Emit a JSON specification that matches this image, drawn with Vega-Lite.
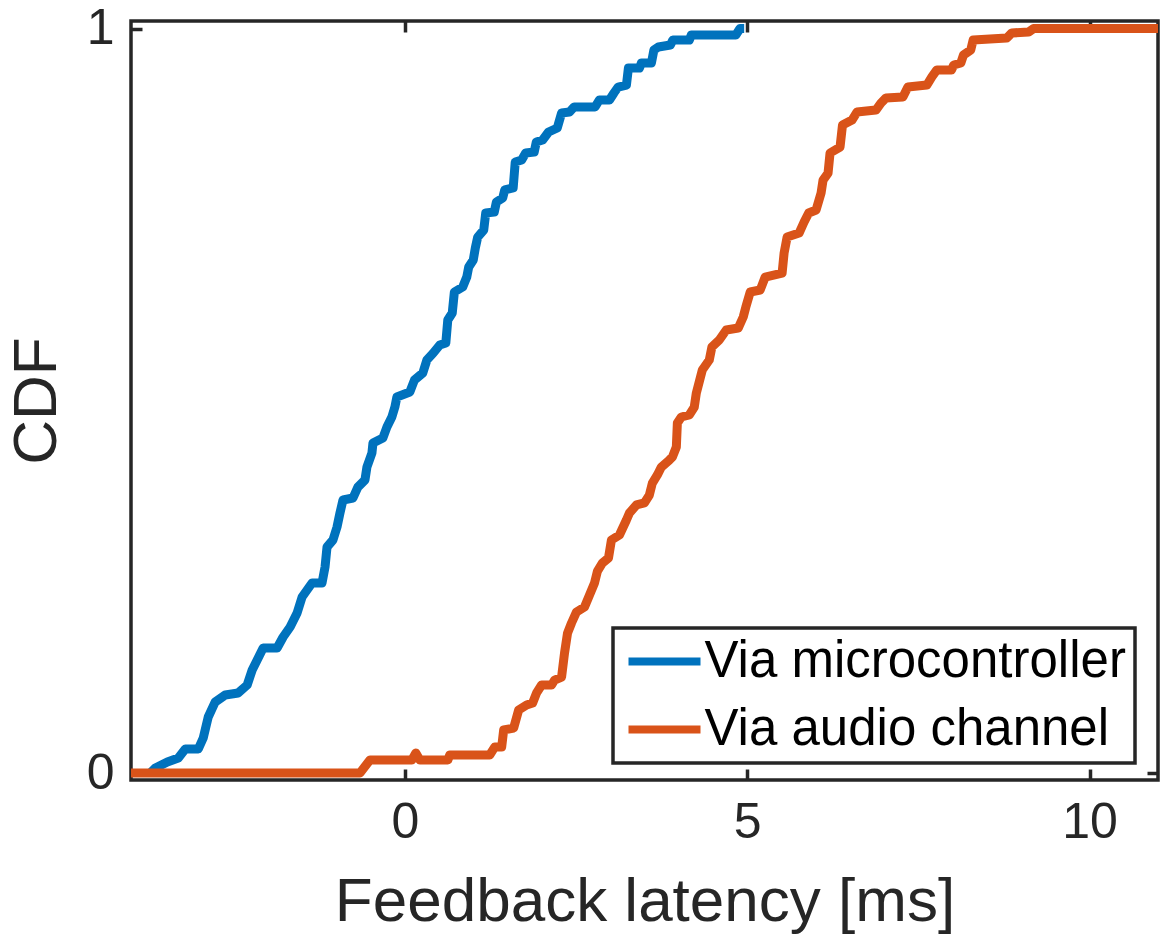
{
  "$schema": "https://vega.github.io/schema/vega-lite/v6.json",
  "width": 1027,
  "height": 759,
  "autosize": {"type": "none"},
  "padding": {"left": 131, "top": 21, "right": 2, "bottom": 166},
  "background": "white",
  "config": {
    "font": "Liberation Sans",
    "view": {"stroke": "#262626", "strokeWidth": 3.5},
    "legend": {"strokeWidth": 3.5},
    "axis": {
      "domain": false,
      "grid": false,
      "tickSize": -11,
      "tickWidth": 3.5,
      "tickColor": "#262626",
      "labelFont": "Liberation Sans",
      "labelFontSize": 50,
      "labelColor": "#262626",
      "titleFont": "Liberation Sans",
      "titleFontSize": 62,
      "titleFontWeight": "normal",
      "titleColor": "#262626",
      "format": "d"
    }
  },
  "data": {
    "values": [
      {"series": "Via microcontroller", "latency": -3.717, "cdf": 0},
      {"series": "Via microcontroller", "latency": -3.644, "cdf": 0.0067},
      {"series": "Via microcontroller", "latency": -3.469, "cdf": 0.0148},
      {"series": "Via microcontroller", "latency": -3.309, "cdf": 0.0201},
      {"series": "Via microcontroller", "latency": -3.207, "cdf": 0.0322},
      {"series": "Via microcontroller", "latency": -3.017, "cdf": 0.0322},
      {"series": "Via microcontroller", "latency": -2.945, "cdf": 0.047},
      {"series": "Via microcontroller", "latency": -2.872, "cdf": 0.0752},
      {"series": "Via microcontroller", "latency": -2.77, "cdf": 0.0954},
      {"series": "Via microcontroller", "latency": -2.624, "cdf": 0.1048},
      {"series": "Via microcontroller", "latency": -2.434, "cdf": 0.1075},
      {"series": "Via microcontroller", "latency": -2.303, "cdf": 0.1182},
      {"series": "Via microcontroller", "latency": -2.23, "cdf": 0.1383},
      {"series": "Via microcontroller", "latency": -2.157, "cdf": 0.1518},
      {"series": "Via microcontroller", "latency": -2.07, "cdf": 0.1679},
      {"series": "Via microcontroller", "latency": -1.866, "cdf": 0.1679},
      {"series": "Via microcontroller", "latency": -1.778, "cdf": 0.1827},
      {"series": "Via microcontroller", "latency": -1.676, "cdf": 0.1961},
      {"series": "Via microcontroller", "latency": -1.574, "cdf": 0.2149},
      {"series": "Via microcontroller", "latency": -1.501, "cdf": 0.2364},
      {"series": "Via microcontroller", "latency": -1.356, "cdf": 0.2552},
      {"series": "Via microcontroller", "latency": -1.21, "cdf": 0.2552},
      {"series": "Via microcontroller", "latency": -1.166, "cdf": 0.2767},
      {"series": "Via microcontroller", "latency": -1.137, "cdf": 0.3036},
      {"series": "Via microcontroller", "latency": -1.05, "cdf": 0.313},
      {"series": "Via microcontroller", "latency": -0.991, "cdf": 0.3304},
      {"series": "Via microcontroller", "latency": -0.948, "cdf": 0.3492},
      {"series": "Via microcontroller", "latency": -0.904, "cdf": 0.3667},
      {"series": "Via microcontroller", "latency": -0.758, "cdf": 0.3694},
      {"series": "Via microcontroller", "latency": -0.685, "cdf": 0.3842},
      {"series": "Via microcontroller", "latency": -0.583, "cdf": 0.3936},
      {"series": "Via microcontroller", "latency": -0.554, "cdf": 0.411},
      {"series": "Via microcontroller", "latency": -0.481, "cdf": 0.4298},
      {"series": "Via microcontroller", "latency": -0.466, "cdf": 0.4433},
      {"series": "Via microcontroller", "latency": -0.321, "cdf": 0.45},
      {"series": "Via microcontroller", "latency": -0.262, "cdf": 0.4647},
      {"series": "Via microcontroller", "latency": -0.19, "cdf": 0.4782},
      {"series": "Via microcontroller", "latency": -0.146, "cdf": 0.4916},
      {"series": "Via microcontroller", "latency": -0.117, "cdf": 0.505},
      {"series": "Via microcontroller", "latency": 0.073, "cdf": 0.5118},
      {"series": "Via microcontroller", "latency": 0.14, "cdf": 0.5279},
      {"series": "Via microcontroller", "latency": 0.262, "cdf": 0.5373},
      {"series": "Via microcontroller", "latency": 0.321, "cdf": 0.5547},
      {"series": "Via microcontroller", "latency": 0.415, "cdf": 0.5641},
      {"series": "Via microcontroller", "latency": 0.51, "cdf": 0.5749},
      {"series": "Via microcontroller", "latency": 0.598, "cdf": 0.5776},
      {"series": "Via microcontroller", "latency": 0.627, "cdf": 0.6085},
      {"series": "Via microcontroller", "latency": 0.692, "cdf": 0.6179},
      {"series": "Via microcontroller", "latency": 0.723, "cdf": 0.6461},
      {"series": "Via microcontroller", "latency": 0.845, "cdf": 0.6528},
      {"series": "Via microcontroller", "latency": 0.904, "cdf": 0.6662},
      {"series": "Via microcontroller", "latency": 0.933, "cdf": 0.6797},
      {"series": "Via microcontroller", "latency": 0.999, "cdf": 0.6891},
      {"series": "Via microcontroller", "latency": 1.029, "cdf": 0.7052},
      {"series": "Via microcontroller", "latency": 1.064, "cdf": 0.7199},
      {"series": "Via microcontroller", "latency": 1.152, "cdf": 0.7294},
      {"series": "Via microcontroller", "latency": 1.181, "cdf": 0.7522},
      {"series": "Via microcontroller", "latency": 1.306, "cdf": 0.7535},
      {"series": "Via microcontroller", "latency": 1.337, "cdf": 0.767},
      {"series": "Via microcontroller", "latency": 1.429, "cdf": 0.7723},
      {"series": "Via microcontroller", "latency": 1.458, "cdf": 0.7831},
      {"series": "Via microcontroller", "latency": 1.582, "cdf": 0.7858},
      {"series": "Via microcontroller", "latency": 1.612, "cdf": 0.8207},
      {"series": "Via microcontroller", "latency": 1.706, "cdf": 0.8234},
      {"series": "Via microcontroller", "latency": 1.764, "cdf": 0.8328},
      {"series": "Via microcontroller", "latency": 1.889, "cdf": 0.8341},
      {"series": "Via microcontroller", "latency": 1.92, "cdf": 0.8476},
      {"series": "Via microcontroller", "latency": 2.012, "cdf": 0.8502},
      {"series": "Via microcontroller", "latency": 2.099, "cdf": 0.861},
      {"series": "Via microcontroller", "latency": 2.226, "cdf": 0.8664},
      {"series": "Via microcontroller", "latency": 2.289, "cdf": 0.8865},
      {"series": "Via microcontroller", "latency": 2.405, "cdf": 0.8878},
      {"series": "Via microcontroller", "latency": 2.471, "cdf": 0.8946},
      {"series": "Via microcontroller", "latency": 2.778, "cdf": 0.8946},
      {"series": "Via microcontroller", "latency": 2.84, "cdf": 0.904},
      {"series": "Via microcontroller", "latency": 2.988, "cdf": 0.904},
      {"series": "Via microcontroller", "latency": 3.054, "cdf": 0.9134},
      {"series": "Via microcontroller", "latency": 3.115, "cdf": 0.9214},
      {"series": "Via microcontroller", "latency": 3.236, "cdf": 0.9241},
      {"series": "Via microcontroller", "latency": 3.265, "cdf": 0.9469},
      {"series": "Via microcontroller", "latency": 3.426, "cdf": 0.9469},
      {"series": "Via microcontroller", "latency": 3.455, "cdf": 0.9537},
      {"series": "Via microcontroller", "latency": 3.601, "cdf": 0.9537},
      {"series": "Via microcontroller", "latency": 3.637, "cdf": 0.9711},
      {"series": "Via microcontroller", "latency": 3.703, "cdf": 0.9751},
      {"series": "Via microcontroller", "latency": 3.878, "cdf": 0.9778},
      {"series": "Via microcontroller", "latency": 3.914, "cdf": 0.9846},
      {"series": "Via microcontroller", "latency": 4.155, "cdf": 0.9846},
      {"series": "Via microcontroller", "latency": 4.184, "cdf": 0.9913},
      {"series": "Via microcontroller", "latency": 4.834, "cdf": 0.9913},
      {"series": "Via microcontroller", "latency": 4.895, "cdf": 1},
      {"series": "Via microcontroller", "latency": 4.956, "cdf": 1},
      {"series": "Via audio channel", "latency": -4.0, "cdf": 0},
      {"series": "Via audio channel", "latency": -0.656, "cdf": 0},
      {"series": "Via audio channel", "latency": -0.51, "cdf": 0.0175},
      {"series": "Via audio channel", "latency": 0.102, "cdf": 0.0175},
      {"series": "Via audio channel", "latency": 0.16, "cdf": 0.0269},
      {"series": "Via audio channel", "latency": 0.219, "cdf": 0.0175},
      {"series": "Via audio channel", "latency": 0.627, "cdf": 0.0175},
      {"series": "Via audio channel", "latency": 0.656, "cdf": 0.0242},
      {"series": "Via audio channel", "latency": 1.239, "cdf": 0.0242},
      {"series": "Via audio channel", "latency": 1.312, "cdf": 0.0349},
      {"series": "Via audio channel", "latency": 1.414, "cdf": 0.0349},
      {"series": "Via audio channel", "latency": 1.443, "cdf": 0.0578},
      {"series": "Via audio channel", "latency": 1.589, "cdf": 0.0604},
      {"series": "Via audio channel", "latency": 1.662, "cdf": 0.0846},
      {"series": "Via audio channel", "latency": 1.778, "cdf": 0.0913},
      {"series": "Via audio channel", "latency": 1.866, "cdf": 0.094},
      {"series": "Via audio channel", "latency": 1.924, "cdf": 0.1075},
      {"series": "Via audio channel", "latency": 1.997, "cdf": 0.1182},
      {"series": "Via audio channel", "latency": 2.143, "cdf": 0.1182},
      {"series": "Via audio channel", "latency": 2.187, "cdf": 0.1249},
      {"series": "Via audio channel", "latency": 2.289, "cdf": 0.1289},
      {"series": "Via audio channel", "latency": 2.332, "cdf": 0.1612},
      {"series": "Via audio channel", "latency": 2.376, "cdf": 0.188},
      {"series": "Via audio channel", "latency": 2.434, "cdf": 0.2015},
      {"series": "Via audio channel", "latency": 2.507, "cdf": 0.2163},
      {"series": "Via audio channel", "latency": 2.624, "cdf": 0.223},
      {"series": "Via audio channel", "latency": 2.697, "cdf": 0.2391},
      {"series": "Via audio channel", "latency": 2.77, "cdf": 0.2552},
      {"series": "Via audio channel", "latency": 2.813, "cdf": 0.2713},
      {"series": "Via audio channel", "latency": 2.886, "cdf": 0.2821},
      {"series": "Via audio channel", "latency": 2.974, "cdf": 0.2888},
      {"series": "Via audio channel", "latency": 3.017, "cdf": 0.313},
      {"series": "Via audio channel", "latency": 3.134, "cdf": 0.3197},
      {"series": "Via audio channel", "latency": 3.236, "cdf": 0.3398},
      {"series": "Via audio channel", "latency": 3.28, "cdf": 0.3492},
      {"series": "Via audio channel", "latency": 3.382, "cdf": 0.36},
      {"series": "Via audio channel", "latency": 3.499, "cdf": 0.3627},
      {"series": "Via audio channel", "latency": 3.571, "cdf": 0.3734},
      {"series": "Via audio channel", "latency": 3.615, "cdf": 0.3895},
      {"series": "Via audio channel", "latency": 3.688, "cdf": 0.4003},
      {"series": "Via audio channel", "latency": 3.746, "cdf": 0.411},
      {"series": "Via audio channel", "latency": 3.863, "cdf": 0.4204},
      {"series": "Via audio channel", "latency": 3.907, "cdf": 0.4244},
      {"series": "Via audio channel", "latency": 3.965, "cdf": 0.4379},
      {"series": "Via audio channel", "latency": 3.98, "cdf": 0.4701},
      {"series": "Via audio channel", "latency": 4.038, "cdf": 0.4782},
      {"series": "Via audio channel", "latency": 4.155, "cdf": 0.4809},
      {"series": "Via audio channel", "latency": 4.227, "cdf": 0.4916},
      {"series": "Via audio channel", "latency": 4.257, "cdf": 0.5104},
      {"series": "Via audio channel", "latency": 4.344, "cdf": 0.5413},
      {"series": "Via audio channel", "latency": 4.446, "cdf": 0.5547},
      {"series": "Via audio channel", "latency": 4.484, "cdf": 0.5722},
      {"series": "Via audio channel", "latency": 4.592, "cdf": 0.5816},
      {"series": "Via audio channel", "latency": 4.694, "cdf": 0.595},
      {"series": "Via audio channel", "latency": 4.869, "cdf": 0.5977},
      {"series": "Via audio channel", "latency": 4.942, "cdf": 0.6125},
      {"series": "Via audio channel", "latency": 4.98, "cdf": 0.6259},
      {"series": "Via audio channel", "latency": 5.044, "cdf": 0.6461},
      {"series": "Via audio channel", "latency": 5.19, "cdf": 0.6488},
      {"series": "Via audio channel", "latency": 5.262, "cdf": 0.6662},
      {"series": "Via audio channel", "latency": 5.51, "cdf": 0.6716},
      {"series": "Via audio channel", "latency": 5.539, "cdf": 0.6985},
      {"series": "Via audio channel", "latency": 5.583, "cdf": 0.7199},
      {"series": "Via audio channel", "latency": 5.758, "cdf": 0.7253},
      {"series": "Via audio channel", "latency": 5.831, "cdf": 0.7401},
      {"series": "Via audio channel", "latency": 5.898, "cdf": 0.7522},
      {"series": "Via audio channel", "latency": 6.006, "cdf": 0.7562},
      {"series": "Via audio channel", "latency": 6.079, "cdf": 0.779},
      {"series": "Via audio channel", "latency": 6.108, "cdf": 0.7965},
      {"series": "Via audio channel", "latency": 6.181, "cdf": 0.8059},
      {"series": "Via audio channel", "latency": 6.21, "cdf": 0.8328},
      {"series": "Via audio channel", "latency": 6.356, "cdf": 0.8408},
      {"series": "Via audio channel", "latency": 6.392, "cdf": 0.8704},
      {"series": "Via audio channel", "latency": 6.531, "cdf": 0.8771},
      {"series": "Via audio channel", "latency": 6.603, "cdf": 0.8878},
      {"series": "Via audio channel", "latency": 6.88, "cdf": 0.8905},
      {"series": "Via audio channel", "latency": 6.953, "cdf": 0.8999},
      {"series": "Via audio channel", "latency": 7.026, "cdf": 0.9067},
      {"series": "Via audio channel", "latency": 7.274, "cdf": 0.908},
      {"series": "Via audio channel", "latency": 7.347, "cdf": 0.9214},
      {"series": "Via audio channel", "latency": 7.624, "cdf": 0.9241},
      {"series": "Via audio channel", "latency": 7.697, "cdf": 0.9349},
      {"series": "Via audio channel", "latency": 7.77, "cdf": 0.9443},
      {"series": "Via audio channel", "latency": 7.983, "cdf": 0.9443},
      {"series": "Via audio channel", "latency": 8.017, "cdf": 0.951},
      {"series": "Via audio channel", "latency": 8.12, "cdf": 0.9537},
      {"series": "Via audio channel", "latency": 8.159, "cdf": 0.9644},
      {"series": "Via audio channel", "latency": 8.265, "cdf": 0.9711},
      {"series": "Via audio channel", "latency": 8.3, "cdf": 0.9846},
      {"series": "Via audio channel", "latency": 8.79, "cdf": 0.9872},
      {"series": "Via audio channel", "latency": 8.863, "cdf": 0.994},
      {"series": "Via audio channel", "latency": 9.111, "cdf": 0.9953},
      {"series": "Via audio channel", "latency": 9.184, "cdf": 1},
      {"series": "Via audio channel", "latency": 11.0, "cdf": 1}
    ]
  },
  "layer": [
    {
      "mark": {"type": "line", "strokeWidth": 9, "strokeJoin": "round", "strokeCap": "butt"},
      "encoding": {
        "x": {
          "field": "latency",
          "type": "quantitative",
          "scale": {"domain": [-4, 11], "nice": false, "zero": false},
          "axis": {"orient": "bottom", "values": [0, 5, 10], "labelPadding": 28, "title": "Feedback latency [ms]", "titlePadding": 24}
        },
        "y": {
          "field": "cdf",
          "type": "quantitative",
          "scale": {"domain": [-0.0094, 1.0101], "nice": false, "zero": false},
          "axis": {"orient": "left", "values": [0, 1], "labelPadding": 28, "title": "CDF", "titlePadding": 18}
        },
        "color": {
          "field": "series",
          "type": "nominal",
          "scale": {"domain": ["Via microcontroller", "Via audio channel"], "range": ["#0072BD", "#D95319"]},
          "legend": {
            "orient": "none",
            "legendX": 482,
            "legendY": 607,
            "title": null,
            "symbolType": "stroke",
            "symbolSize": 5184,
            "symbolStrokeWidth": 8,
            "symbolOffset": 3,
            "clipHeight": 50,
            "labelFont": "Liberation Sans",
            "labelFontSize": 51,
            "labelColor": "#000000",
            "labelOffset": 0,
            "labelLimit": 0,
            "padding": 8.5,
            "rowPadding": 17,
            "strokeColor": "#262626",
            "fillColor": "white"
          }
        }
      }
    },
    {
      "mark": {"type": "line", "opacity": 0},
      "encoding": {
        "x": {
          "field": "latency",
          "type": "quantitative",
          "axis": {"orient": "top", "values": [0, 5, 10], "labels": false, "title": null}
        },
        "y": {
          "field": "cdf",
          "type": "quantitative",
          "axis": {"orient": "right", "values": [0, 1], "labels": false, "title": null}
        },
        "detail": {"field": "series", "type": "nominal"}
      }
    }
  ],
  "resolve": {"axis": {"x": "independent", "y": "independent"}}
}
